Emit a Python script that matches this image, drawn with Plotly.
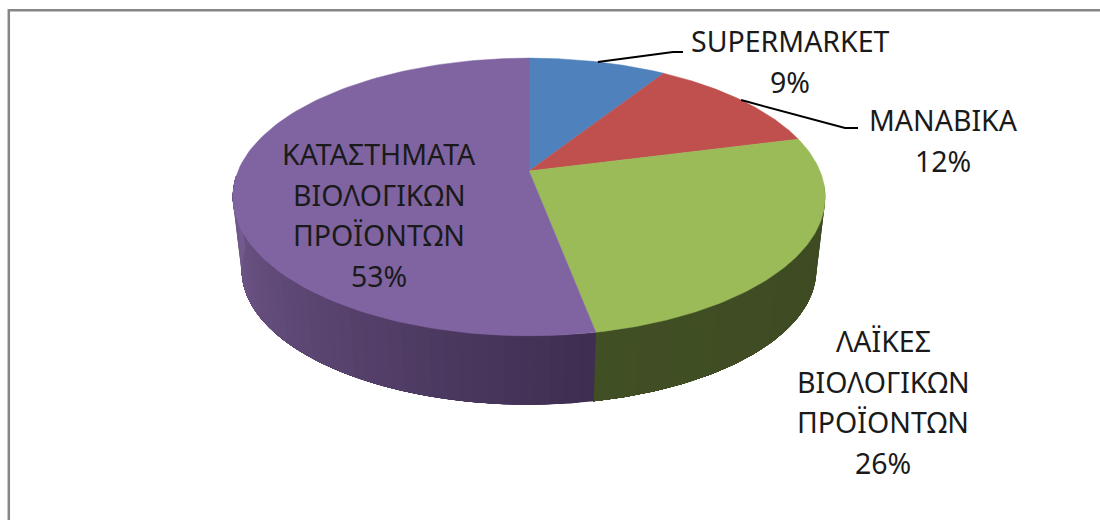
import numpy as np
import plotly.graph_objects as go

# ---- data ----
names = [["SUPERMARKET"], ["ΜΑΝΑΒΙΚΑ"], ["ΛΑΪΚΕΣ", "ΒΙΟΛΟΓΙΚΩΝ", "ΠΡΟΪΟΝΤΩΝ"], ["ΚΑΤΑΣΤΗΜΑΤΑ", "ΒΙΟΛΟΓΙΚΩΝ", "ΠΡΟΪΟΝΤΩΝ"]]
shares = [9, 12, 26, 53]
top_colors = ["#4f81bd", "#c0504d", "#9bbb59", "#8064a2"]

# ---- layout of the projected disc (pixel-like axis units) ----
CX, CY = 529, 171
S, K, P = 291, 134, 0.187
ELL_CY = 197
SCALE_B, DY_B = 0.97, 73
label_xy = [(790, 61.5), (943, 140.5), (883, 402), (379, 215)]
elbows = [[(673, 52), (683, 52)], [(845, 128), (858, 128)], None, None]
FONT = "Noto Sans"
FS = 28.5
LINE_STEP = 40.7


def top(theta):
    t = np.radians(theta)
    x, y = np.sin(t), np.cos(t)
    w = 1 + P * y
    return CX + S * x / w, CY - K * y / w


def bottom(theta):
    X, Y = top(theta)
    return CX + (X - CX) * SCALE_B, ELL_CY + (Y - ELL_CY) * SCALE_B + DY_B


def mix(a, b, f):
    ca = [int(a[i:i + 2], 16) for i in (1, 3, 5)]
    cb = [int(b[i:i + 2], 16) for i in (1, 3, 5)]
    return "rgb(%d,%d,%d)" % tuple(round(u + (v - u) * f) for u, v in zip(ca, cb))


edges = np.cumsum([0] + shares) * 3.6
fig = go.Figure()

# side wall: strips painted over each other so that no seams show
side_ranges = [
    (95, edges[3], "#3e4a22", "#414f25"),
    (edges[3], 268, "#3e2d50", "#755c90"),
]
for a0, a1, c0, c1 in side_ranges:
    n = 40
    cuts = np.linspace(a0, a1, n + 1)
    for i in range(n):
        th = np.linspace(cuts[i], a1, 80)
        xt, yt = top(th)
        xb, yb = bottom(th[::-1])
        col = mix(c0, c1, (i + 0.5) / n)
        fig.add_trace(go.Scatter(
            x=np.r_[xt, xb, xt[0]], y=np.r_[yt, yb, yt[0]], mode="lines", fill="toself",
            fillcolor=col, line=dict(color=col, width=0), hoverinfo="skip", showlegend=False))

# top face
for i, col in enumerate(top_colors):
    th = np.linspace(edges[i], edges[i + 1], 120)
    xt, yt = top(th)
    fig.add_trace(go.Scatter(
        x=np.r_[CX, xt, CX], y=np.r_[CY, yt, CY], mode="lines", fill="toself", fillcolor=col,
        line=dict(color=col, width=0.5), name=" ".join(names[i]),
        hoverinfo="name", showlegend=False))

# leader lines
for i, el in enumerate(elbows):
    if el is None:
        continue
    mx, my = top((edges[i] + edges[i + 1]) / 2)
    fig.add_trace(go.Scatter(
        x=[mx] + [p[0] for p in el], y=[my] + [p[1] for p in el], mode="lines",
        line=dict(color="#000000", width=2), hoverinfo="skip", showlegend=False))

# labels, one annotation per line because the reference spacing is wider than Plotly's
for nm, sh, (lx, ly) in zip(names, shares, label_xy):
    lines = nm + [f"{sh}%"]
    for j, txt in enumerate(lines):
        fig.add_annotation(x=lx, y=ly + (j - (len(lines) - 1) / 2) * LINE_STEP, xref="x", yref="y",
                           text=txt, showarrow=False, align="center",
                           font=dict(family=FONT, size=FS, color="#1a1a1a"))

fig.update_layout(
    width=1100, height=520, margin=dict(l=0, r=0, t=0, b=0),
    paper_bgcolor="white", plot_bgcolor="white", showlegend=False,
    xaxis=dict(range=[0, 1100], visible=False, fixedrange=True),
    yaxis=dict(range=[520, 0], visible=False, fixedrange=True),
    shapes=[dict(type="rect", xref="x", yref="y", x0=8.8, y0=10.3, x1=1120, y1=540,
                 line=dict(color="#868686", width=2.5), fillcolor="rgba(0,0,0,0)", layer="below")],
)
fig.write_html("out.html", config=dict(displayModeBar=False),
               post_script="document.body.style.margin='0';document.body.style.overflow='hidden';")
